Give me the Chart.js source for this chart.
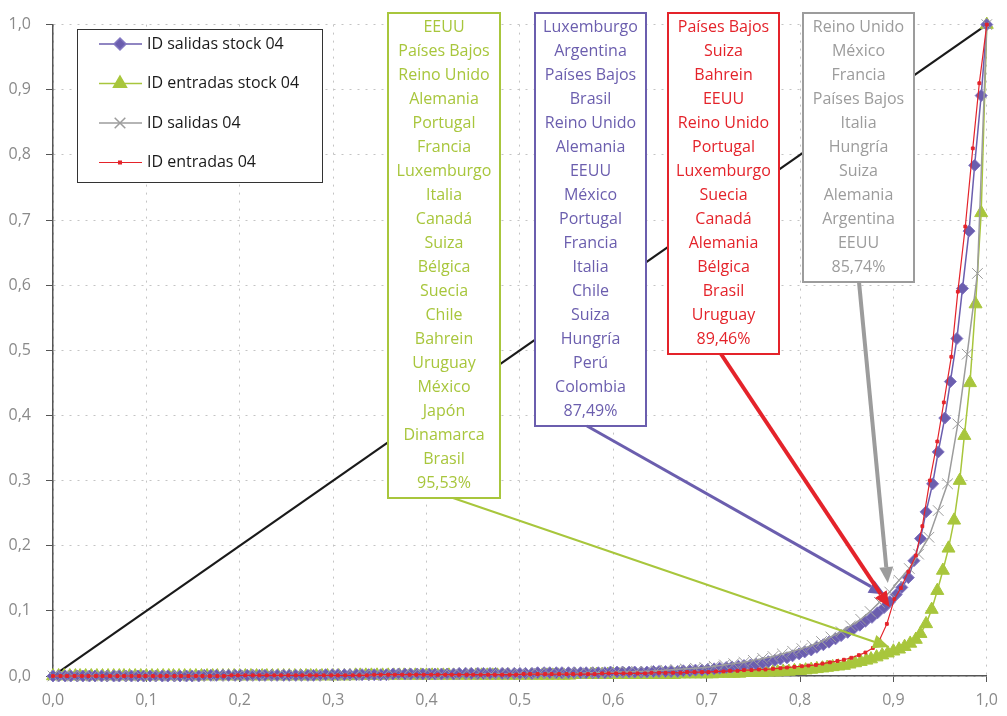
<!DOCTYPE html>
<html>
<head>
<meta charset="utf-8">
<title>Curvas de concentración ID 04</title>
<script src="https://cdn.jsdelivr.net/npm/chart.js@4.4.1/dist/chart.umd.min.js"></script>
<style>
  html, body { margin: 0; padding: 0; background: #fff; }
  #wrap { width: 1007px; height: 716px; }
</style>
</head>
<body>
<div id="wrap"><canvas id="curvas" width="1007" height="716"></canvas></div>
<script>
// ID salidas stock 04
const salidasStockX = [
  0,0.006,0.013,0.019,0.026,0.032,0.039,0.045,0.052,0.058,
  0.065,0.071,0.078,0.084,0.091,0.097,0.104,0.110,0.117,0.123,
  0.130,0.136,0.143,0.149,0.156,0.162,0.169,0.175,0.182,0.188,
  0.195,0.201,0.208,0.214,0.221,0.227,0.234,0.240,0.247,0.253,
  0.260,0.266,0.273,0.279,0.286,0.292,0.299,0.305,0.312,0.318,
  0.325,0.331,0.338,0.344,0.351,0.357,0.364,0.370,0.377,0.383,
  0.390,0.396,0.403,0.409,0.416,0.422,0.429,0.435,0.442,0.448,
  0.455,0.461,0.468,0.474,0.481,0.487,0.494,0.500,0.506,0.513,
  0.519,0.526,0.532,0.539,0.545,0.552,0.558,0.565,0.571,0.578,
  0.584,0.591,0.597,0.604,0.610,0.617,0.623,0.630,0.636,0.643,
  0.649,0.656,0.662,0.669,0.675,0.682,0.688,0.695,0.701,0.708,
  0.714,0.721,0.727,0.734,0.740,0.747,0.753,0.760,0.766,0.773,
  0.779,0.786,0.792,0.799,0.805,0.812,0.818,0.825,0.831,0.838,
  0.844,0.851,0.857,0.864,0.870,0.877,0.883,0.890,0.896,0.903,
  0.909,0.916,0.922,0.929,0.935,0.942,0.948,0.955,0.961,0.968,
  0.974,0.981,0.987,0.994,1
];
const salidasStockY = [
  0,0,0,0,0,0,0,0,0,0,
  0,0,0,0,0,0,0,0,0,0,
  0,0,0,0,0,0.001,0.001,0.001,0.001,0.001,
  0.001,0.001,0.001,0.001,0.001,0.001,0.001,0.001,0.001,0.001,
  0.001,0.001,0.001,0.001,0.001,0.002,0.002,0.002,0.002,0.002,
  0.002,0.002,0.002,0.002,0.002,0.002,0.003,0.003,0.003,0.003,
  0.003,0.003,0.003,0.003,0.003,0.003,0.003,0.004,0.004,0.004,
  0.004,0.004,0.004,0.004,0.004,0.004,0.004,0.004,0.004,0.004,
  0.005,0.005,0.005,0.005,0.005,0.005,0.005,0.005,0.005,0.005,
  0.005,0.005,0.006,0.006,0.006,0.006,0.006,0.006,0.006,0.007,
  0.007,0.007,0.007,0.007,0.008,0.008,0.009,0.009,0.010,0.011,
  0.012,0.013,0.014,0.015,0.016,0.017,0.018,0.020,0.022,0.024,
  0.026,0.028,0.031,0.034,0.037,0.040,0.044,0.048,0.052,0.057,
  0.062,0.067,0.072,0.078,0.084,0.090,0.097,0.105,0.114,0.125,
  0.136,0.151,0.177,0.211,0.252,0.295,0.344,0.396,0.452,0.518,
  0.595,0.683,0.784,0.891,1
];

// ID entradas stock 04
const entradasStockX = [
  0,0.006,0.012,0.018,0.024,0.029,0.035,0.041,0.047,0.053,
  0.059,0.065,0.071,0.076,0.082,0.088,0.094,0.100,0.106,0.112,
  0.118,0.124,0.129,0.135,0.141,0.147,0.153,0.159,0.165,0.171,
  0.176,0.182,0.188,0.194,0.200,0.206,0.212,0.218,0.224,0.229,
  0.235,0.241,0.247,0.253,0.259,0.265,0.271,0.276,0.282,0.288,
  0.294,0.300,0.306,0.312,0.318,0.324,0.329,0.335,0.341,0.347,
  0.353,0.359,0.365,0.371,0.376,0.382,0.388,0.394,0.400,0.406,
  0.412,0.418,0.424,0.429,0.435,0.441,0.447,0.453,0.459,0.465,
  0.471,0.476,0.482,0.488,0.494,0.500,0.506,0.512,0.518,0.524,
  0.529,0.535,0.541,0.547,0.553,0.559,0.565,0.571,0.576,0.582,
  0.588,0.594,0.600,0.606,0.612,0.618,0.624,0.629,0.635,0.641,
  0.647,0.653,0.659,0.665,0.671,0.676,0.682,0.688,0.694,0.700,
  0.706,0.712,0.718,0.724,0.729,0.735,0.741,0.747,0.753,0.759,
  0.765,0.771,0.776,0.782,0.788,0.794,0.800,0.806,0.812,0.818,
  0.824,0.829,0.835,0.841,0.847,0.853,0.859,0.865,0.871,0.876,
  0.882,0.888,0.894,0.900,0.906,0.912,0.918,0.924,0.929,0.935,
  0.941,0.947,0.953,0.959,0.965,0.971,0.976,0.982,0.988,0.994,
  1
];
const entradasStockY = [
  0,0,0,0,0,0,0,0,0,0,
  0,0,0,0,0,0,0,0,0,0,
  0,0,0,0,0,0,0,0,0,0,
  0,0,0,0,0,0,0,0,0,0,
  0,0,0,0,0,0,0,0,0,0,
  0,0,0,0,0,0.001,0.001,0.001,0.001,0.001,
  0.001,0.001,0.001,0.001,0.001,0.001,0.001,0.001,0.001,0.001,
  0.001,0.001,0.001,0.001,0.001,0.001,0.001,0.001,0.001,0.001,
  0.001,0.001,0.001,0.001,0.001,0.001,0.001,0.001,0.001,0.001,
  0.001,0.001,0.001,0.001,0.001,0.002,0.002,0.002,0.002,0.002,
  0.002,0.002,0.002,0.002,0.002,0.002,0.002,0.002,0.002,0.002,
  0.002,0.002,0.002,0.002,0.003,0.003,0.003,0.003,0.003,0.003,
  0.003,0.004,0.004,0.004,0.004,0.004,0.005,0.005,0.005,0.005,
  0.006,0.006,0.006,0.007,0.007,0.008,0.008,0.009,0.010,0.011,
  0.012,0.013,0.014,0.015,0.016,0.018,0.020,0.022,0.024,0.026,
  0.029,0.032,0.035,0.038,0.041,0.045,0.050,0.056,0.065,0.080,
  0.102,0.131,0.162,0.196,0.239,0.300,0.369,0.450,0.571,0.711,
  1
];

// ID salidas 04
const salidasX = [
  0,0.010,0.021,0.031,0.042,0.052,0.063,0.073,0.083,0.094,
  0.104,0.115,0.125,0.135,0.146,0.156,0.167,0.177,0.188,0.198,
  0.208,0.219,0.229,0.240,0.250,0.260,0.271,0.281,0.292,0.302,
  0.313,0.323,0.333,0.344,0.354,0.365,0.375,0.385,0.396,0.406,
  0.417,0.427,0.438,0.448,0.458,0.469,0.479,0.490,0.500,0.510,
  0.521,0.531,0.542,0.552,0.563,0.573,0.583,0.594,0.604,0.615,
  0.625,0.635,0.646,0.656,0.667,0.677,0.688,0.698,0.708,0.719,
  0.729,0.740,0.750,0.760,0.771,0.781,0.792,0.802,0.813,0.823,
  0.833,0.844,0.854,0.865,0.875,0.885,0.896,0.906,0.917,0.927,
  0.938,0.948,0.958,0.969,0.979,0.990,1
];
const salidasY = [
  0,0,0,0,0,0,0,0,0,0,
  0,0,0,0,0,0,0,0,0.001,0.001,
  0.001,0.001,0.001,0.001,0.001,0.001,0.001,0.001,0.001,0.001,
  0.001,0.001,0.001,0.001,0.001,0.002,0.002,0.002,0.002,0.002,
  0.002,0.002,0.002,0.002,0.003,0.003,0.003,0.003,0.003,0.003,
  0.004,0.004,0.004,0.004,0.004,0.005,0.005,0.005,0.006,0.006,
  0.007,0.007,0.008,0.009,0.010,0.011,0.012,0.013,0.015,0.017,
  0.019,0.021,0.024,0.027,0.030,0.034,0.038,0.042,0.047,0.053,
  0.060,0.068,0.077,0.087,0.099,0.113,0.129,0.147,0.165,0.187,
  0.213,0.254,0.295,0.387,0.494,0.618,1
];

// ID entradas 04
const entradasX = [
  0,0.008,0.015,0.023,0.031,0.038,0.046,0.053,0.061,0.069,
  0.076,0.084,0.092,0.099,0.107,0.115,0.122,0.130,0.137,0.145,
  0.153,0.160,0.168,0.176,0.183,0.191,0.198,0.206,0.214,0.221,
  0.229,0.237,0.244,0.252,0.260,0.267,0.275,0.282,0.290,0.298,
  0.305,0.313,0.321,0.328,0.336,0.344,0.351,0.359,0.366,0.374,
  0.382,0.389,0.397,0.405,0.412,0.420,0.427,0.435,0.443,0.450,
  0.458,0.466,0.473,0.481,0.489,0.496,0.504,0.511,0.519,0.527,
  0.534,0.542,0.550,0.557,0.565,0.573,0.580,0.588,0.595,0.603,
  0.611,0.618,0.626,0.634,0.641,0.649,0.656,0.664,0.672,0.679,
  0.687,0.695,0.702,0.710,0.718,0.725,0.733,0.740,0.748,0.756,
  0.763,0.771,0.779,0.786,0.794,0.802,0.809,0.817,0.824,0.832,
  0.840,0.847,0.855,0.863,0.870,0.878,0.885,0.893,0.901,0.908,
  0.916,0.924,0.931,0.939,0.947,0.954,0.962,0.969,0.977,0.985,
  0.992,1
];
const entradasY = [
  0,0,0,0,0,0,0,0,0,0,
  0,0,0,0,0,0,0,0,0,0,
  0,0,0,0,0,0.001,0.001,0.001,0.001,0.001,
  0.001,0.001,0.001,0.001,0.001,0.001,0.001,0.001,0.001,0.001,
  0.001,0.001,0.001,0.001,0.001,0.002,0.002,0.002,0.002,0.002,
  0.002,0.002,0.002,0.002,0.002,0.002,0.002,0.002,0.002,0.002,
  0.002,0.002,0.002,0.002,0.002,0.002,0.003,0.003,0.003,0.003,
  0.003,0.003,0.003,0.003,0.003,0.003,0.003,0.004,0.004,0.004,
  0.004,0.004,0.004,0.004,0.005,0.005,0.005,0.005,0.005,0.006,
  0.006,0.006,0.006,0.007,0.007,0.008,0.008,0.009,0.009,0.010,
  0.010,0.011,0.012,0.013,0.014,0.015,0.016,0.017,0.019,0.021,
  0.023,0.025,0.028,0.032,0.036,0.043,0.055,0.080,0.118,0.135,
  0.160,0.185,0.230,0.300,0.360,0.420,0.490,0.590,0.690,0.810,
  0.910,1
];

// línea de equidistribución
const igualdadX = [0, 1];
const igualdadY = [0, 1];

// recuadros con los países de mayor peso en cada serie
const paisesEntradasStock = ['EEUU', 'Países Bajos', 'Reino Unido', 'Alemania', 'Portugal', 'Francia',
  'Luxemburgo', 'Italia', 'Canadá', 'Suiza', 'Bélgica', 'Suecia', 'Chile', 'Bahrein', 'Uruguay',
  'México', 'Japón', 'Dinamarca', 'Brasil'];
const pctEntradasStock = 95.53;
const paisesSalidasStock = ['Luxemburgo', 'Argentina', 'Países Bajos', 'Brasil', 'Reino Unido', 'Alemania',
  'EEUU', 'México', 'Portugal', 'Francia', 'Italia', 'Chile', 'Suiza', 'Hungría', 'Perú', 'Colombia'];
const pctSalidasStock = 87.49;
const paisesEntradas = ['Países Bajos', 'Suiza', 'Bahrein', 'EEUU', 'Reino Unido', 'Portugal',
  'Luxemburgo', 'Suecia', 'Canadá', 'Alemania', 'Bélgica', 'Brasil', 'Uruguay'];
const pctEntradas = 89.46;
const paisesSalidas = ['Reino Unido', 'México', 'Francia', 'Países Bajos', 'Italia', 'Hungría',
  'Suiza', 'Alemania', 'Argentina', 'EEUU'];
const pctSalidas = 85.74;

const VERDE = '#a8c63c', MORADO = '#6b5eae', GRIS = '#9c9c9c', ROJO = '#e4232a';
const FUENTE = '"Open Sans", "Noto Sans", sans-serif';

const puntos = (xs, ys) => xs.map((x, i) => ({ x: x, y: ys[i] }));
const coma = (v, d) => v.toFixed(d).replace('.', ',');

// recuadro: posición en píxeles, punta de la flecha en valores del eje
const cajas = [
  { paises: paisesEntradasStock, pct: pctEntradasStock, color: VERDE, left: 388, width: 112, startX: 453, tipX: 0.8955, lw: 2 },
  { paises: paisesSalidasStock, pct: pctSalidasStock, color: MORADO, left: 535, width: 111, startX: 587, tipX: 0.891, lw: 3 },
  { paises: paisesEntradas, pct: pctEntradas, color: ROJO, left: 668, width: 111, startX: 721, tipX: 0.896, lw: 4 },
  { paises: paisesSalidas, pct: pctSalidas, color: GRIS, left: 803, width: 111, startX: 859, tipX: 0.894, lw: 4 }
];

function flecha(ctx, x0, y0, x1, y1, color, w) {
  const a = Math.atan2(y1 - y0, x1 - x0);
  const largo = 16, medio = 7;
  const bx = x1 - Math.cos(a) * largo, by = y1 - Math.sin(a) * largo;
  ctx.strokeStyle = color;
  ctx.lineWidth = w;
  ctx.beginPath();
  ctx.moveTo(x0, y0);
  ctx.lineTo(bx, by);
  ctx.stroke();
  ctx.fillStyle = color;
  ctx.beginPath();
  ctx.moveTo(x1, y1);
  ctx.lineTo(bx + Math.sin(a) * medio, by - Math.cos(a) * medio);
  ctx.lineTo(bx - Math.sin(a) * medio, by + Math.cos(a) * medio);
  ctx.closePath();
  ctx.fill();
}

const anotaciones = {
  id: 'anotaciones',
  afterDatasetsDraw(chart) {
    const { ctx, scales: { x, y } } = chart;
    ctx.save();
    ctx.font = '16px ' + FUENTE;
    ctx.textAlign = 'center';
    ctx.textBaseline = 'middle';
    cajas.forEach(c => {
      const lineas = c.paises.concat([coma(c.pct, 2) + '%']);
      const top = 13;
      c.bottom = 27 + (lineas.length - 1) * 24 + 15;
      ctx.fillStyle = '#fff';
      ctx.fillRect(c.left, top, c.width, c.bottom - top);
      ctx.strokeStyle = c.color;
      ctx.lineWidth = 2;
      ctx.strokeRect(c.left, top, c.width, c.bottom - top);
      ctx.fillStyle = c.color;
      lineas.forEach((t, i) => ctx.fillText(t, c.left + c.width / 2, 27 + i * 24));
    });
    cajas.forEach(c => {
      flecha(ctx, c.startX, c.bottom, x.getPixelForValue(c.tipX),
        y.getPixelForValue(1 - c.pct / 100), c.color, c.lw);
    });
    ctx.restore();
  }
};

const leyenda = {
  id: 'leyenda',
  afterDraw(chart) {
    const ctx = chart.ctx;
    ctx.save();
    ctx.fillStyle = '#fff';
    ctx.fillRect(77, 29, 245, 153);
    ctx.strokeStyle = '#333';
    ctx.lineWidth = 1;
    ctx.strokeRect(77.5, 29.5, 245, 153);
    ctx.font = '16px ' + FUENTE;
    ctx.textBaseline = 'middle';
    ctx.textAlign = 'left';
    chart.data.datasets.slice(0, 4).forEach((ds, i) => {
      const cy = 44 + i * 39.5;
      ctx.strokeStyle = ds.borderColor;
      ctx.lineWidth = ds.borderWidth;
      ctx.beginPath();
      ctx.moveTo(99, cy);
      ctx.lineTo(142, cy);
      ctx.stroke();
      ctx.fillStyle = ds.pointBackgroundColor;
      ctx.strokeStyle = ds.pointBorderColor;
      Chart.helpers.drawPoint(ctx, {
        pointStyle: ds.pointStyle, radius: ds.pointRadius,
        borderWidth: ds.pointBorderWidth, rotation: 0
      }, 120, cy);
      ctx.fillStyle = '#1a1a1a';
      ctx.fillText(ds.label, 147, cy);
    });
    ctx.restore();
  }
};

const serie = (label, xs, ys, color, estilo, radio, orden, extra) => Object.assign({
  label: label,
  data: puntos(xs, ys),
  showLine: true,
  borderColor: color,
  borderWidth: 1.5,
  pointStyle: estilo,
  pointRadius: radio,
  pointBackgroundColor: color,
  pointBorderColor: color,
  pointBorderWidth: 1,
  clip: false,
  order: orden
}, extra || {});

const ejeComun = {
  type: 'linear',
  min: 0,
  max: 1,
  grid: {
    color: '#c4c4c4',
    lineWidth: 1,
    drawTicks: true,
    tickColor: '#555',
    tickWidth: 1
  },
  border: { display: true, color: '#555', width: 1.5, dash: [2, 6] }
};

new Chart(document.getElementById('curvas'), {
  type: 'scatter',
  data: {
    datasets: [
      serie('ID salidas stock 04', salidasStockX, salidasStockY, MORADO, 'rectRot', 6, 2,
        { pointBorderColor: '#8378c2' }),
      serie('ID entradas stock 04', entradasStockX, entradasStockY, VERDE, 'triangle', 7.5, 3),
      serie('ID salidas 04', salidasX, salidasY, GRIS, 'crossRot', 7.5, 1),
      serie('ID entradas 04', entradasX, entradasY, ROJO, 'rect', 2, 0, { borderWidth: 1.2 }),
      {
        label: 'igualdad',
        data: puntos(igualdadX, igualdadY),
        showLine: true,
        borderColor: '#1a1a1a',
        borderWidth: 2.2,
        pointRadius: 0,
        order: 4
      }
    ]
  },
  options: {
    responsive: false,
    devicePixelRatio: 1,
    animation: false,
    events: [],
    layout: { padding: { top: 14, right: 20, left: 0, bottom: 0 } },
    plugins: { legend: { display: false }, tooltip: { enabled: false } },
    scales: {
      x: Object.assign({}, ejeComun, {
        grid: Object.assign({}, ejeComun.grid, { tickLength: 6 }),
        ticks: {
          stepSize: 0.1, autoSkip: false, maxRotation: 0, padding: 9,
          color: '#8a8a8a', font: { family: FUENTE, size: 16 },
          callback: v => coma(v, 1)
        },
        afterFit(s) { s.height = 40; }
      }),
      y: Object.assign({}, ejeComun, {
        grid: Object.assign({}, ejeComun.grid, { tickLength: 7 }),
        ticks: {
          stepSize: 0.1, autoSkip: false, padding: 15,
          color: '#8a8a8a', font: { family: FUENTE, size: 16 },
          callback: v => coma(v, 1)
        },
        afterFit(s) { s.width = 53; }
      })
    }
  },
  plugins: [anotaciones, leyenda]
});
</script>
</body>
</html>
